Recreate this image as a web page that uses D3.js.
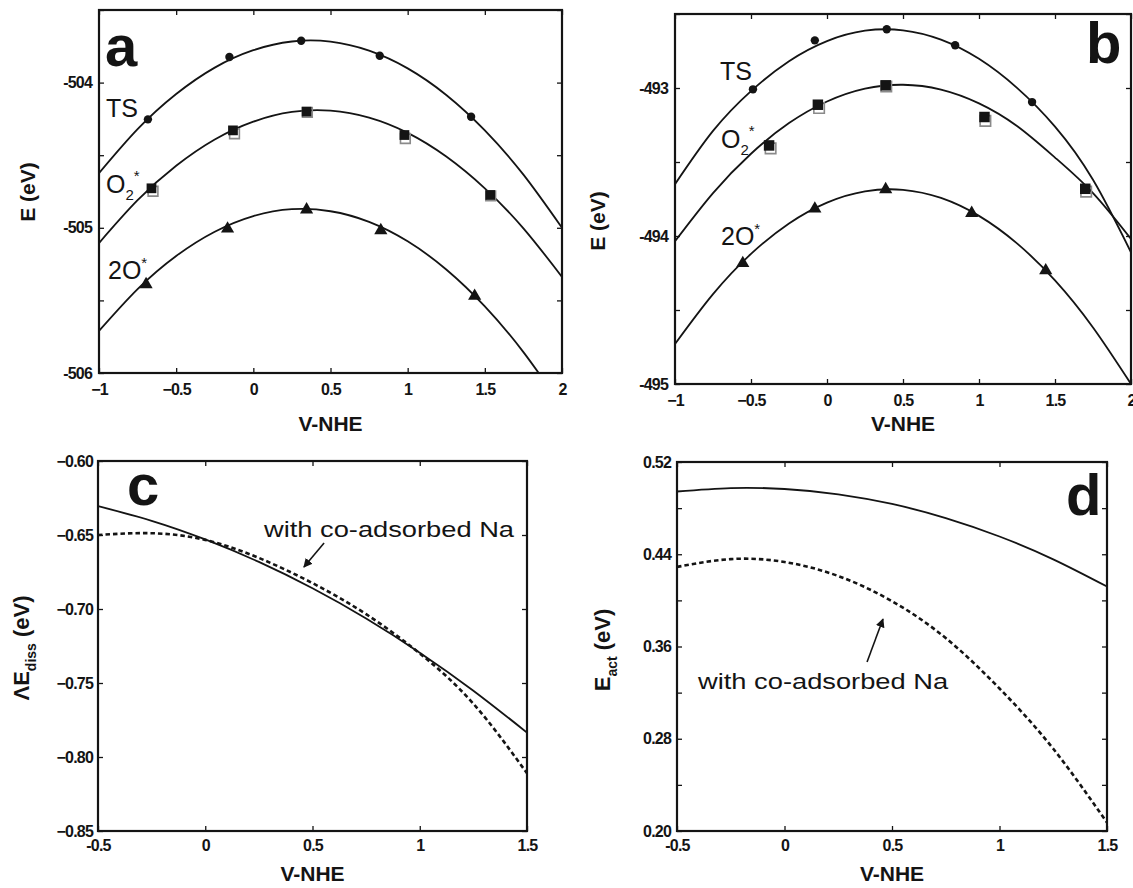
<!DOCTYPE html>
<html>
<head>
<meta charset="utf-8">
<script src="https://cdn.jsdelivr.net/npm/d3@7"></script>
<style>
  body { margin: 0; background: #fff; }
  svg text { font-family: "Liberation Sans", Arial, Helvetica, sans-serif; fill: #141414; }
</style>
</head>
<body>
<svg id="fig" width="1133" height="888"></svg>
<script>
// ---------- data ----------
// potential grid (V vs NHE) on which the fitted curves of panels a and b are sampled
const gridAB = [-1, -0.75, -0.5, -0.25, 0, 0.25, 0.5, 0.75, 1, 1.25, 1.5, 1.75, 2];

// panel a : total energies (eV)
const aTSCurve  = [-504.624, -504.321, -504.079, -503.897, -503.777, -503.717, -503.718, -503.780, -503.902, -504.085, -504.329, -504.634, -505.000];
const aO2Curve  = [-505.105, -504.810, -504.573, -504.392, -504.269, -504.202, -504.193, -504.241, -504.346, -504.509, -504.728, -505.004, -505.338];
const a2OCurve  = [-505.710, -505.422, -505.194, -505.027, -504.919, -504.872, -504.886, -504.959, -505.093, -505.287, -505.541, -505.856, -506.230];
const aTSPtsV   = [-0.683, -0.155, 0.310, 0.819, 1.411];
const aTSPtsE   = [-504.253, -503.824, -503.712, -503.815, -504.235];
const aO2PtsV   = [-0.660, -0.132, 0.345, 0.979, 1.535];
const aO2PtsE   = [-504.728, -504.329, -504.200, -504.361, -504.774];
const aO2AltV   = [-0.650, -0.122, 0.350, 0.985, 1.538];
const aO2AltE   = [-504.748, -504.352, -504.205, -504.385, -504.780];
const a2OPtsV   = [-0.695, -0.167, 0.345, 0.826, 1.434];
const a2OPtsE   = [-505.390, -505.007, -504.875, -505.018, -505.470];

// panel b : total energies (eV)
const bTSCurve  = [-493.650, -493.290, -493.021, -492.819, -492.683, -492.613, -492.610, -492.673, -492.803, -492.999, -493.261, -493.620, -494.110];
const bO2Curve  = [-494.036, -493.710, -493.444, -493.237, -493.091, -493.004, -492.978, -493.011, -493.104, -493.257, -493.470, -493.710, -494.020];
const b2OCurve  = [-494.730, -494.393, -494.121, -493.915, -493.774, -493.698, -493.688, -493.743, -493.864, -494.050, -494.300, -494.618, -495.000];
const bTSPtsV   = [-0.487, -0.080, 0.393, 0.843, 1.349];
const bTSPtsE   = [-493.009, -492.678, -492.603, -492.711, -493.095];
const bO2PtsV   = [-0.381, -0.060, 0.386, 1.036, 1.699];
const bO2PtsE   = [-493.388, -493.113, -492.982, -493.196, -493.681];
const bO2AltV   = [-0.371, -0.052, 0.390, 1.042, 1.705];
const bO2AltE   = [-493.408, -493.135, -492.990, -493.222, -493.700];
const b2OPtsV   = [-0.554, -0.080, 0.386, 0.952, 1.439];
const b2OPtsE   = [-494.184, -493.816, -493.685, -493.846, -494.233];

// panels c and d share one potential grid
const gridCD    = [-0.5, -0.25, 0, 0.25, 0.5, 0.75, 1, 1.25, 1.5];

// panel c : dissociation energy (eV)
const cClean    = [-0.6305, -0.6404, -0.653, -0.6682, -0.686, -0.7064, -0.7295, -0.7552, -0.7835];
const cWithNa   = [-0.650, -0.6488, -0.6533, -0.6655, -0.6825, -0.7035, -0.7300, -0.7640, -0.8110];

// panel d : activation energy (eV)
const dClean    = [0.4944, 0.4974, 0.4966, 0.4920, 0.4836, 0.4714, 0.4554, 0.4356, 0.4120];
const dWithNa   = [0.4290, 0.4358, 0.4333, 0.4211, 0.3993, 0.3673, 0.3236, 0.2713, 0.2073];

// axis ticks
const xTicksAB = [-1, -0.5, 0, 0.5, 1, 1.5, 2];
const yTicksA  = [-506, -505.5, -505, -504.5, -504, -503.5];
const yTicksB  = [-495, -494.5, -494, -493.5, -493, -492.5];
const xTicksCD = [-0.5, 0, 0.5, 1, 1.5];
const yTicksC  = [-0.85, -0.80, -0.75, -0.70, -0.65, -0.60];
const yTicksD  = [0.20, 0.24, 0.28, 0.32, 0.36, 0.40, 0.44, 0.48, 0.52];
const yLabelsD = [0.20, 0.28, 0.36, 0.44, 0.52];

// ---------- drawing ----------
const svg = d3.select("#fig");
const INK = "#141414";

const defs = svg.append("defs");
defs.append("marker")
  .attr("id", "arrowHead")
  .attr("viewBox", "0 0 10 10")
  .attr("refX", 9).attr("refY", 5)
  .attr("markerWidth", 9).attr("markerHeight", 9)
  .attr("markerUnits", "userSpaceOnUse")
  .attr("orient", "auto")
  .append("path").attr("d", "M0,0 L10,5 L0,10 Z").attr("fill", INK);

function panel(id, box, xDom, yDom, xTicks, yTicks, xFmt, yFmt) {
  const g = svg.append("g").attr("class", "panel-" + id);
  const x = d3.scaleLinear().domain(xDom).range([box.left, box.right]);
  const y = d3.scaleLinear().domain(yDom).range([box.bottom, box.top]);

  defs.append("clipPath").attr("id", "clip-" + id)
    .append("rect")
    .attr("x", box.left).attr("y", box.top)
    .attr("width", box.right - box.left).attr("height", box.bottom - box.top);

  const tickStyle = sel => {
    sel.select(".domain").remove();
    sel.selectAll(".tick line").attr("stroke", INK).attr("stroke-width", 1.3);
    sel.selectAll(".tick text")
      .attr("fill", INK)
      .style("font-size", "16px").style("font-weight", "bold")
      .style("letter-spacing", "-0.8px");
  };

  g.append("g").attr("transform", `translate(0,${box.bottom})`)
    .call(d3.axisBottom(x).tickValues(xTicks).tickSize(-5).tickPadding(box.xPad || 11).tickFormat(xFmt))
    .call(tickStyle);
  g.append("g").attr("transform", `translate(0,${box.top})`)
    .call(d3.axisTop(x).tickValues(xTicks).tickSize(-5).tickFormat(""))
    .call(tickStyle);
  g.append("g").attr("transform", `translate(${box.left},0)`)
    .call(d3.axisLeft(y).tickValues(yTicks).tickSize(-5).tickPadding(box.yPad || 7).tickFormat(yFmt))
    .call(tickStyle);
  g.append("g").attr("transform", `translate(${box.right},0)`)
    .call(d3.axisRight(y).tickValues(yTicks).tickSize(-5).tickFormat(""))
    .call(tickStyle);

  g.append("rect")
    .attr("x", box.left).attr("y", box.top)
    .attr("width", box.right - box.left).attr("height", box.bottom - box.top)
    .attr("fill", "none").attr("stroke", INK).attr("stroke-width", 2.2);

  const plot = g.append("g").attr("clip-path", `url(#clip-${id})`);
  return { g, plot, x, y, box };
}

function curve(p, xs, ys, dashed) {
  const line = d3.line().x(d => p.x(d[0])).y(d => p.y(d[1])).curve(d3.curveNatural);
  p.plot.append("path")
    .datum(d3.zip(xs, ys))
    .attr("d", line)
    .attr("fill", "none")
    .attr("stroke", INK)
    .attr("stroke-width", dashed ? 2.6 : 1.8)
    .attr("stroke-dasharray", dashed ? "4.5,3" : null);
}

function markers(p, xs, ys, type, size, style) {
  p.g.selectAll(null)
    .data(d3.zip(xs, ys))
    .join("path")
    .attr("transform", d => `translate(${p.x(d[0])},${p.y(d[1])})`)
    .attr("d", d3.symbol().type(type).size(size))
    .attr("fill", style.fill)
    .attr("stroke", style.stroke || "none")
    .attr("stroke-width", style.width || 0);
}

function xTitle(p, txt, yPos) {
  p.g.append("text")
    .attr("x", (p.box.left + p.box.right) / 2).attr("y", yPos)
    .attr("text-anchor", "middle")
    .style("font-size", "21px").style("font-weight", "bold")
    .text(txt);
}

function yTitle(p, xPos, yPos, size, main, sub, tail) {
  const t = p.g.append("text")
    .attr("transform", `translate(${xPos},${yPos}) rotate(-90)`)
    .attr("text-anchor", "middle")
    .style("font-size", size + "px").style("font-weight", "bold");
  t.append("tspan").text(main);
  if (sub) {
    t.append("tspan").attr("dy", "7").style("font-size", "14px").text(sub);
    t.append("tspan").attr("dy", "-7").text("\u00a0" + tail);
  } else {
    t.append("tspan").text(tail);
  }
}

function panelLetter(p, txt, xPos, yPos) {
  p.g.append("text")
    .attr("x", xPos).attr("y", yPos)
    .style("font-size", "58px").style("font-weight", "bold")
    .text(txt);
}

function species(p, xPos, yPos, base, sub, sup) {
  const t = p.g.append("text")
    .attr("x", xPos).attr("y", yPos)
    .style("font-size", "25px");
  t.append("tspan").text(base);
  if (sub) t.append("tspan").attr("dy", "7").style("font-size", "15px").text(sub);
  if (sup) t.append("tspan").attr("dy", sub ? "-19" : "-11").style("font-size", "15px").text(sup);
}

function annotate(p, txt, tx, ty, tail, head) {
  p.g.append("text")
    .attr("x", p.x(tx)).attr("y", p.y(ty))
    .attr("textLength", 250).attr("lengthAdjust", "spacingAndGlyphs")
    .style("font-size", "22px")
    .text(txt);
  p.g.append("line")
    .attr("x1", p.x(tail[0])).attr("y1", p.y(tail[1]))
    .attr("x2", p.x(head[0])).attr("y2", p.y(head[1]))
    .attr("stroke", INK).attr("stroke-width", 1.6)
    .attr("marker-end", "url(#arrowHead)");
}

const fmtAB = d => d3.format("")(d);
const intOnly = d => Number.isInteger(d) ? d : "";
const twoDec = d3.format(".2f");
const fmtCDx = d => d;

// ----- panel a -----
const pa = panel("a", { left: 99, right: 562, top: 10, bottom: 373 },
  [-1, 2], [-506, -503.5], xTicksAB, yTicksA, fmtAB, intOnly);
curve(pa, gridAB, aTSCurve);
curve(pa, gridAB, aO2Curve);
curve(pa, gridAB, a2OCurve);
markers(pa, aTSPtsV, aTSPtsE, d3.symbolCircle, 55, { fill: INK });
markers(pa, aO2AltV, aO2AltE, d3.symbolSquare, 95, { fill: "none", stroke: "#8a8a8a", width: 1.6 });
markers(pa, aO2PtsV, aO2PtsE, d3.symbolSquare, 95, { fill: INK });
markers(pa, a2OPtsV, a2OPtsE, d3.symbolTriangle, 75, { fill: INK });
panelLetter(pa, "a", 105, 66);
species(pa, 106, 117, "TS");
species(pa, 106, 193, "O", "2", "*");
species(pa, 108, 279, "2O", null, "*");
xTitle(pa, "V-NHE", 431);
yTitle(pa, 35, 192, 21, "E (eV)", null, "");

// ----- panel b -----
const pb = panel("b", { left: 675, right: 1131, top: 14, bottom: 384 },
  [-1, 2], [-495, -492.5], xTicksAB, yTicksB, fmtAB, intOnly);
curve(pb, gridAB, bTSCurve);
curve(pb, gridAB, bO2Curve);
curve(pb, gridAB, b2OCurve);
markers(pb, bTSPtsV, bTSPtsE, d3.symbolCircle, 55, { fill: INK });
markers(pb, bO2AltV, bO2AltE, d3.symbolSquare, 110, { fill: "none", stroke: "#8a8a8a", width: 1.6 });
markers(pb, bO2PtsV, bO2PtsE, d3.symbolSquare, 110, { fill: INK });
markers(pb, b2OPtsV, b2OPtsE, d3.symbolTriangle, 75, { fill: INK });
panelLetter(pb, "b", 1086, 63);
species(pb, 720, 80, "TS");
species(pb, 721, 148, "O", "2", "*");
species(pb, 721, 245, "2O", null, "*");
xTitle(pb, "V-NHE", 431);
yTitle(pb, 605, 221, 21, "E (eV)", null, "");

// ----- panel c -----
const pc = panel("c", { left: 98, right: 527, top: 461, bottom: 831, xPad: 9, yPad: 5 },
  [-0.5, 1.5], [-0.85, -0.60], xTicksCD, yTicksC, fmtCDx, twoDec);
curve(pc, gridCD, cClean);
curve(pc, gridCD, cWithNa, true);
panelLetter(pc, "c", 127, 505);
annotate(pc, "with co-adsorbed Na", 0.274, -0.6514, [0.554, -0.6554], [0.46, -0.6716]);
xTitle(pc, "V-NHE", 881);
yTitle(pc, 29, 648, 22, "\u039bE", "diss", "(eV)");

// ----- panel d -----
const pd = panel("d", { left: 677, right: 1107, top: 462, bottom: 831, xPad: 9, yPad: 6 },
  [-0.5, 1.5], [0.20, 0.52], xTicksCD, yTicksD, fmtCDx, d => yLabelsD.some(v => Math.abs(v - d) < 1e-9) ? twoDec(d) : "");
curve(pd, gridCD, dClean);
curve(pd, gridCD, dWithNa, true);
panelLetter(pd, "d", 1066, 515);
annotate(pd, "with co-adsorbed Na", -0.402, 0.3231, [0.384, 0.3465], [0.458, 0.3838]);
xTitle(pd, "V-NHE", 881);
yTitle(pd, 610, 650, 22, "E", "act", "(eV)");
</script>
</body>
</html>
